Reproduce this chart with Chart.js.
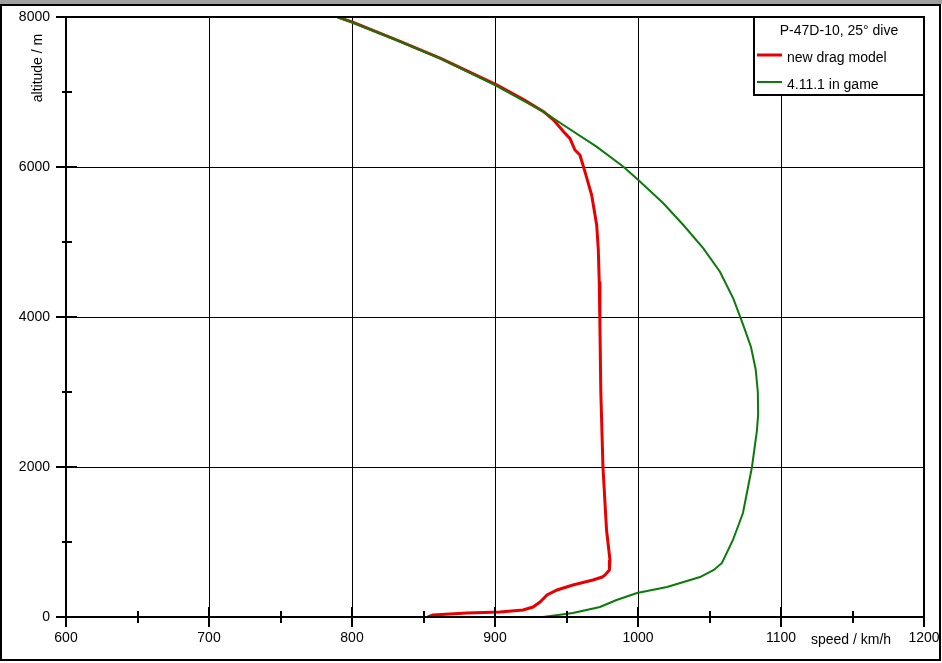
<!DOCTYPE html>
<html>
<head>
<meta charset="utf-8">
<title>P-47D-10, 25° dive</title>
<script src="https://cdn.jsdelivr.net/npm/chart.js@4/dist/chart.umd.min.js"></script>
<style>
    html, body { margin: 0; padding: 0; background: #fff; }
    canvas { display: block; }
</style>
</head>
<body>
<canvas id="dive-chart" width="942" height="663"></canvas>
<script>
const chartTitle = "P-47D-10, 25° dive";
const seriesNames = ["new drag model", "4.11.1 in game"];
const xAxisTitle = "speed / km/h";
const yAxisTitle = "altitude / m";
const speedTicks = [600, 700, 800, 900, 1000, 1100, 1200];
const speedMinorTicks = [650, 750, 850, 950, 1050, 1150];
const altitudeTicks = [0, 2000, 4000, 6000, 8000];
const altitudeMinorTicks = [1000, 3000, 5000, 7000];

// new drag model (red)
const newAltitude = [8000, 7930, 7693, 7449, 7093, 6900, 6738, 6627, 6471, 6382, 6227, 6160, 5938, 5627, 5227, 4916, 4471, 3849, 3000, 2000, 1160, 760, 627, 560, 533, 493, 427, 360, 293, 200, 133, 93, 67, 53, 27, 0];
const newSpeed    = [790, 800.5, 831.5, 862, 901.5, 920, 934, 941, 948, 952.4, 955.9, 959.4, 962.9, 967.6, 971.1, 972.2, 972.9, 973.4, 974, 975.5, 978, 980.4, 980, 977, 975, 968.5, 954.5, 943.4, 936.4, 931.5, 926.6, 919.6, 903.5, 880.4, 856.6, 853];

// 4.11.1 in game (green)
const gameAltitude = [8000, 7930, 7693, 7449, 7093, 6738, 6560, 6271, 6004, 5827, 5516, 5227, 4916, 4604, 4249, 3893, 3600, 3300, 3000, 2700, 2493, 2000, 1387, 1027, 720, 627, 533, 400, 320, 227, 133, 53, 0];
const gameSpeed    = [789.5, 800, 831, 861.5, 900, 933.8, 947.8, 971, 989.8, 1000.2, 1017.7, 1031.7, 1045.7, 1057.3, 1066.6, 1073.6, 1079, 1082.3, 1083.8, 1084, 1083.2, 1079.7, 1073.4, 1066.4, 1058.7, 1053, 1043.4, 1020.3, 999.3, 985, 973.4, 954.5, 933.6];

const FONT = "Liberation Sans, Arial, sans-serif";

function toPoints(speeds, alts){
    return speeds.map(function (s, i) { return { x: s, y: alts[i] }; });
}

const framePlugin = {
    id: "frame",
    beforeDraw: function (chart) {
        const ctx = chart.ctx;
        ctx.save();
        ctx.fillStyle = "#ffffff";
        ctx.fillRect(0, 0, chart.width, chart.height);
        ctx.fillStyle = "#a0a0a0";
        ctx.fillRect(0, 0, chart.width, 4);
        ctx.strokeStyle = "#000";
        ctx.lineWidth = 2;
        ctx.strokeRect(1, 5, chart.width - 3, chart.height - 8);
        ctx.restore();
    },
    afterDraw: function (chart) {
        const ctx = chart.ctx;
        const a = chart.chartArea;
        const xs = chart.scales.x;
        const ys = chart.scales.y;
        ctx.save();
        ctx.strokeStyle = "#000";
        ctx.lineWidth = 2;
        ctx.strokeRect(a.left, a.top, a.right - a.left, a.bottom - a.top);

        // tick marks crossing the axes
        ctx.beginPath();
        speedTicks.forEach(function (v) {
            const px = Math.round(xs.getPixelForValue(v));
            ctx.moveTo(px, a.bottom - 10); ctx.lineTo(px, a.bottom + 10);
        });
        speedMinorTicks.forEach(function (v) {
            const px = Math.round(xs.getPixelForValue(v));
            ctx.moveTo(px, a.bottom - 6); ctx.lineTo(px, a.bottom + 6);
        });
        altitudeTicks.forEach(function (v) {
            const py = Math.round(ys.getPixelForValue(v));
            ctx.moveTo(a.left - 10, py); ctx.lineTo(a.left + 11, py);
        });
        altitudeMinorTicks.forEach(function (v) {
            const py = Math.round(ys.getPixelForValue(v));
            ctx.moveTo(a.left - 4, py); ctx.lineTo(a.left + 6, py);
        });
        ctx.stroke();

        // axis titles
        ctx.fillStyle = "#000";
        ctx.font = "14px " + FONT;
        ctx.textBaseline = "middle";
        ctx.textAlign = "left";
        ctx.fillText(xAxisTitle, 811, 640);
        ctx.translate(38, 68);
        ctx.rotate(-Math.PI / 2);
        ctx.textAlign = "center";
        ctx.fillText(yAxisTitle, 0, 0);
        ctx.setTransform(1, 0, 0, 1, 0, 0);

        // legend box
        const lx = 754, ly = a.top, lw = a.right - 754, lh = 78;
        ctx.fillStyle = "#fff";
        ctx.fillRect(lx, ly, lw, lh);
        ctx.lineWidth = 2;
        ctx.strokeRect(lx, ly, lw, lh);
        ctx.fillStyle = "#000";
        ctx.textAlign = "center";
        ctx.fillText(chartTitle, lx + lw / 2, ly + 14);
        ctx.textAlign = "left";
        chart.data.datasets.forEach(function (ds, i) {
            const yy = ly + 38 + i * 27;
            ctx.strokeStyle = ds.borderColor;
            ctx.lineWidth = ds.borderWidth;
            ctx.beginPath();
            ctx.moveTo(lx + 3, yy);
            ctx.lineTo(lx + 28, yy);
            ctx.stroke();
            ctx.fillStyle = "#000";
            ctx.fillText(ds.label, lx + 33, yy + 3);
        });
        ctx.restore();
    }
};

const ctx = document.getElementById("dive-chart").getContext("2d");
const diveChart = new Chart(ctx, {
    type: "line",
    data: {
        datasets: [
            {
                label: seriesNames[0],
                data: toPoints(newSpeed, newAltitude),
                borderColor: "#e60000",
                borderWidth: 3,
                pointRadius: 0,
                tension: 0,
                order: 2,
            },
            {
                label: seriesNames[1],
                data: toPoints(gameSpeed, gameAltitude),
                borderColor: "#0b7a0b",
                borderWidth: 2,
                pointRadius: 0,
                tension: 0,
                order: 1,
            },
        ],
    },
    options: {
        responsive: false,
        animation: false,
        devicePixelRatio: 1,
        layout: {
            padding: { left: 0, top: 17, right: 18, bottom: 0 },
        },
        plugins: {
            legend: { display: false },
            tooltip: { enabled: false },
        },
        scales: {
            x: {
                type: "linear",
                min: 600,
                max: 1200,
                afterBuildTicks: function (scale) {
                    scale.ticks = speedTicks.map(function (v) { return { value: v }; });
                },
                afterFit: function (scale) {
                    scale.height = 46;
                    scale.paddingLeft = 0;
                    scale.paddingRight = 0;
                },
                ticks: {
                    color: "#000",
                    font: { family: FONT, size: 14 },
                    padding: 13,
                    maxRotation: 0,
                    autoSkip: false,
                    callback: function (value) { return String(value); },
                },
                grid: { color: "#000", lineWidth: 1, drawTicks: false },
                border: { display: false },
            },
            y: {
                type: "linear",
                min: 0,
                max: 8000,
                afterBuildTicks: function (scale) {
                    scale.ticks = altitudeTicks.map(function (v) { return { value: v }; });
                },
                afterFit: function (scale) {
                    scale.width = 66;
                    scale.paddingTop = 0;
                    scale.paddingBottom = 0;
                },
                ticks: {
                    color: "#000",
                    font: { family: FONT, size: 14 },
                    padding: 16,
                    autoSkip: false,
                    callback: function (value) { return String(value); },
                },
                grid: { color: "#000", lineWidth: 1, drawTicks: false },
                border: { display: false },
            },
        },
    },
    plugins: [framePlugin],
});
</script>
</body>
</html>
